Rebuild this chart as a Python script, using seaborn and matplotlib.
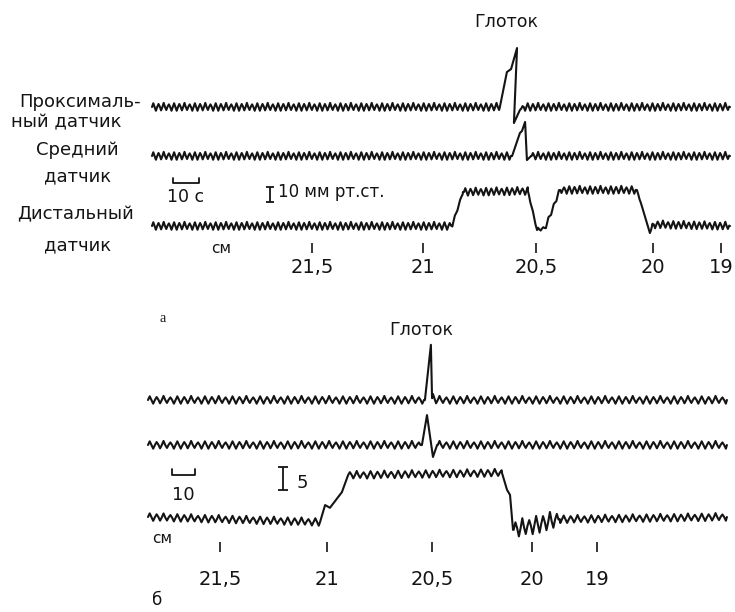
import numpy as np
import pandas as pd
import matplotlib
matplotlib.use('Agg')
import matplotlib.pyplot as plt
import seaborn as sns

# --- data ----------------------------------------------------------------
# every trace: knot times (s), pressure relative to its baseline (mm Hg),
# and the respiratory ripple amplitude on the segment after each knot
# (0 = straight stroke, e.g. the swallow spike)

# panel a
prox_a_t = [0, 133.8, 136.5, 138.1, 140.4, 139.2, 141.5, 143.0, 222.3]
prox_a_p = [0, 0, 23.3, 25.3, 39.3, -10.7, -2.0, 0, 0]
prox_a_amp = [2.5, 0, 0, 0, 0, 0, 1.8, 2.5]

mid_a_t = [0, 138.5, 141.5, 142.3, 143.5, 144.2, 145.8, 222.3]
mid_a_p = [0, 0, 15.3, 16.7, 22.7, -2.7, 0, 0]
mid_a_amp = [2.5, 0, 0, 0, 0, 0, 2.5]

dist_a_t = [0, 115.4, 119.6, 144.6, 148.1, 151.2, 156.9, 186.5, 188.5, 191.5, 192.7, 222.3]
dist_a_p = [0, 0, 22.7, 23.3, -2.7, -1.3, 24.0, 24.0, 12.7, -4.7, 1.0, 0]
dist_a_amp = [2.5, 1.0, 2.5, 0.8, 1.2, 1.5, 2.5, 0.5, 0, 1.5, 2.5]

# panel б
prox_b_t = [0, 120.4, 123.0, 123.5, 123.9, 124.8, 251.7]
prox_b_p = [0, 0, 12.0, 0.4, 1.3, 0, 0]
prox_b_amp = [0.8, 0, 0, 0, 0, 0.8]

mid_b_t = [0, 119.1, 121.3, 123.9, 125.7, 251.7]
mid_b_p = [0, 0, 6.5, -2.6, 0, 0]
mid_b_amp = [0.8, 0, 0, 0, 0.8]

dist_b_t = [0, 74.8, 77.0, 79.1, 84.3, 87.0, 153.9, 156.1, 157.4, 158.7, 179.1, 251.7]
dist_b_p = [0, -1.1, 2.6, 2.0, 5.4, 9.1, 9.6, 5.9, 4.8, -2.8, -0.5, 0]
dist_b_amp = [0.8, 0, 0, 0, 0, 0.8, 0, 0, 0, 1.9, 0.8]

# measured breathing period (s) and a few drawn cycles of the ripple
period_a = 2.0
period_b = 3.0
ripple_cycle = [0, 1, 0, -1, 0, 0.8, 0.1, -0.9, 0, 1.1, 0, -0.8, 0.1, 0.7, 0, -1]

# position marks along the catheter (cm) and the times where they stand
cm_labels_a = ['21,5', '21', '20,5', '20', '19']
cm_times_a = [61.5, 104.2, 147.7, 192.7, 218.8]
cm_labels_b = ['21,5', '21', '20,5', '20', '19']
cm_times_b = [31.3, 77.8, 123.5, 167.0, 195.2]

# calibration bars
bar_time_a, bar_press_a = 10, 10   # s, mm Hg
bar_time_b, bar_press_b = 10, 5


def build_trace(t_knots, p_knots, amps, period):
    step = period / 4
    ts, ps = [t_knots[0]], [p_knots[0]]
    for i, a in enumerate(amps):
        t0, t1 = t_knots[i], t_knots[i + 1]
        p0, p1 = p_knots[i], p_knots[i + 1]
        if a > 0 and t1 > t0:
            for k in range(int(np.floor(t0 / step)) + 1, int(np.ceil(t1 / step))):
                t = k * step
                lvl = p0 + (p1 - p0) * (t - t0) / (t1 - t0)
                ts.append(t)
                ps.append(lvl + a * ripple_cycle[k % len(ripple_cycle)])
        ts.append(t1)
        ps.append(p1)
    return pd.DataFrame({'t': ts, 'p': ps})


# --- figure ---------------------------------------------------------------
W, H = 735, 612
sns.set_theme(style='white')
plt.rcParams['font.family'] = ['DejaVu Sans']
ink = '#141414'

fig = plt.figure(figsize=(W / 100, H / 100), dpi=100, facecolor='white')
ax_a = fig.add_axes([0, 312 / H, 1, 300 / H])
ax_b = fig.add_axes([0, 0, 1, 312 / H])

ax_a.set_xlim(-152 / 2.6, (W - 152) / 2.6)
ax_a.set_ylim(0, 300 / 1.5)
ax_b.set_xlim(-148 / 2.3, (W - 148) / 2.3)
ax_b.set_ylim(0, 312 / 4.6)


def row_a(ypx):
    return (300 - ypx) / 1.5


def row_b(ypx):
    return (612 - ypx) / 4.6


traces = [
    (ax_a, prox_a_t, prox_a_p, prox_a_amp, period_a, row_a(107)),
    (ax_a, mid_a_t, mid_a_p, mid_a_amp, period_a, row_a(156)),
    (ax_a, dist_a_t, dist_a_p, dist_a_amp, period_a, row_a(226)),
    (ax_b, prox_b_t, prox_b_p, prox_b_amp, period_b, row_b(400)),
    (ax_b, mid_b_t, mid_b_p, mid_b_amp, period_b, row_b(445)),
    (ax_b, dist_b_t, dist_b_p, dist_b_amp, period_b, row_b(517)),
]
for ax, tk, pk, am, per, base in traces:
    df = build_trace(tk, pk, am, per)
    df['p'] = df['p'] + base
    sns.lineplot(data=df, x='t', y='p', ax=ax, sort=False, estimator=None,
                 color=ink, linewidth=1.5)

# catheter position ticks via the x axis
for ax, spine_y, times, labels, pad in [(ax_a, row_a(248), cm_times_a, cm_labels_a, 4),
                                        (ax_b, row_b(547), cm_times_b, cm_labels_b, 13)]:
    for s in ax.spines.values():
        s.set_visible(False)
    ax.spines['bottom'].set_position(('data', spine_y))
    ax.set_yticks([])
    ax.set_xticks(times, labels)
    ax.tick_params(axis='x', direction='inout', length=7, width=1.2, pad=pad,
                   labelsize=14, colors=ink, bottom=True)
    ax.set_xlabel('')
    ax.set_ylabel('')
    ax.patch.set_alpha(0)

# calibration bars
t0 = (173 - 152) / 2.6
ax_a.plot([t0, t0, t0 + bar_time_a, t0 + bar_time_a],
          [row_a(178), row_a(183), row_a(183), row_a(178)], color=ink, lw=1.3)
ax_a.errorbar([(270 - 152) / 2.6], [row_a(202) + bar_press_a / 2], yerr=[bar_press_a / 2],
              fmt='none', ecolor=ink, elinewidth=1.3, capsize=3, capthick=1.3)
t0 = (172 - 148) / 2.3
ax_b.plot([t0, t0, t0 + bar_time_b, t0 + bar_time_b],
          [row_b(469), row_b(475), row_b(475), row_b(469)], color=ink, lw=1.3)
ax_b.errorbar([(283 - 148) / 2.3], [row_b(490) + bar_press_b / 2], yerr=[bar_press_b / 2],
              fmt='none', ecolor=ink, elinewidth=1.3, capsize=3.5, capthick=1.3)


def label(x, y, s, size=13, ha='center', va='baseline', **kw):
    fig.text(x / W, 1 - y / H, s, ha=ha, va=va, fontsize=size, color=ink, **kw)


label(80, 107, 'Проксималь-')
label(66, 127, 'ный датчик')
label(77, 155, 'Средний')
label(78, 181, 'датчик')
label(75, 219, 'Дистальный')
label(78, 250, 'датчик')

label(506, 27, 'Глоток', size=12.5)
label(421, 335, 'Глоток', size=12.5)

label(186, 202, '10 с', size=12.5)
label(278, 197, '10 мм рт.ст.', size=12, ha='left')
label(221, 253, 'см', size=11)

label(183, 500, '10', size=13)
label(297, 488, '5', size=13, ha='left')
label(162, 543, 'см', size=11)

label(163, 322, 'а', size=10, family=['Liberation Serif'])
label(157, 605, 'б', size=12)

fig.savefig('out.png', dpi=100, facecolor='white')
